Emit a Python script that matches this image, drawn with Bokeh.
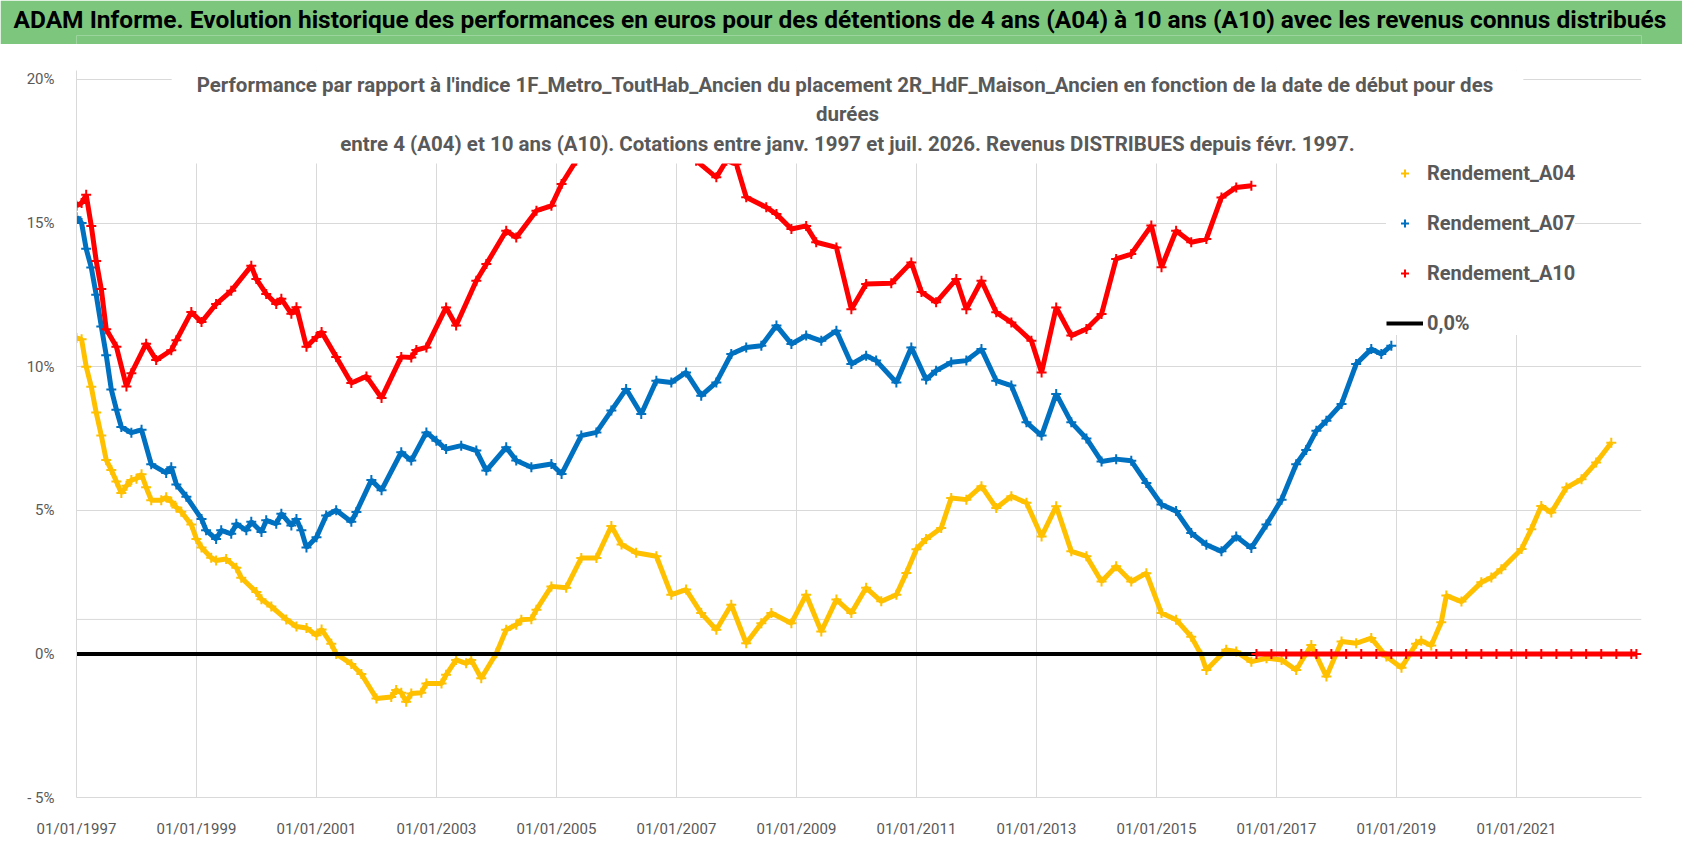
import pandas as pd
from bokeh.plotting import figure
from bokeh.layouts import column
from bokeh.models import (Range1d, FixedTicker, DatetimeTickFormatter, Label,
                          Legend, LegendItem, Span)
from bokeh.embed import file_html
from bokeh.resources import INLINE

POLICE = "Roboto"
GRIS_TEXTE = "#595959"
GRIS_GRILLE = "#D9D9D9"

TITRE = ("ADAM Informe. Evolution historique des performances en euros pour des "
         "détentions de 4 ans (A04) à 10 ans (A10) avec les revenus connus distribués")
SOUS_TITRE = ("Performance par rapport à l'indice 1F_Metro_ToutHab_Ancien  du placement "
              "2R_HdF_Maison_Ancien en fonction de la date de début pour des\n"
              "durées\n"
              "entre 4 (A04) et 10 ans (A10). Cotations entre janv. 1997 et juil. 2026. "
              "Revenus DISTRIBUES depuis févr. 1997.")

# axes
annees_ticks = [1997, 1999, 2001, 2003, 2005, 2007, 2009, 2011, 2013, 2015, 2017, 2019, 2021]
ticks_y = [-5, 0, 5, 10, 15, 20]
labels_y = ["- 5%", "0%", "5%", "10%", "15%", "20%"]
debut_axe = "1997-01"
fin_axe = "2023-02"
ligne_grise = 1.2  # ligne horizontale supplementaire visible sur le graphique

# Rendement_A04 (en %)
dates_a04 = [
    "1997-01", "1997-02", "1997-03", "1997-04", "1997-05", "1997-06", "1997-07", "1997-08",
    "1997-09", "1997-10", "1997-11", "1997-12",
    "1998-01", "1998-02", "1998-03", "1998-04", "1998-06", "1998-07", "1998-08", "1998-09",
    "1998-10", "1998-12",
    "1999-01", "1999-02", "1999-04", "1999-05", "1999-07", "1999-09", "1999-10",
    "2000-01", "2000-02", "2000-04", "2000-07", "2000-09", "2000-11",
    "2001-01", "2001-02", "2001-04", "2001-05", "2001-08", "2001-10",
    "2002-01", "2002-04", "2002-05", "2002-06", "2002-07", "2002-08", "2002-10", "2002-11",
    "2003-02", "2003-03", "2003-05", "2003-07", "2003-08", "2003-10",
    "2004-01", "2004-03", "2004-05", "2004-06", "2004-08", "2004-09", "2004-12",
    "2005-03", "2005-06", "2005-09", "2005-12",
    "2006-02", "2006-05", "2006-09", "2006-12",
    "2007-03", "2007-06", "2007-09", "2007-12",
    "2008-03", "2008-06", "2008-08", "2008-12",
    "2009-03", "2009-06", "2009-09", "2009-12",
    "2010-03", "2010-06", "2010-09", "2010-11",
    "2011-01", "2011-03", "2011-06", "2011-08", "2011-11",
    "2012-02", "2012-05", "2012-08", "2012-11",
    "2013-02", "2013-05", "2013-08", "2013-11",
    "2014-02", "2014-05", "2014-08", "2014-11",
    "2015-02", "2015-05", "2015-08", "2015-10", "2015-11",
    "2016-03", "2016-05", "2016-08", "2016-11",
    "2017-02", "2017-05", "2017-08", "2017-11",
    "2018-02", "2018-05", "2018-08", "2018-11",
    "2019-02", "2019-05", "2019-06", "2019-08", "2019-10", "2019-11",
    "2020-02", "2020-06", "2020-08", "2020-10",
    "2021-02", "2021-04", "2021-06", "2021-08", "2021-11",
    "2022-02", "2022-05", "2022-08",
]
rendement_a04 = [
    11.0, 10.95, 10.0, 9.3, 8.4, 7.6, 6.75, 6.4, 6.0, 5.6, 5.85, 6.05,
    6.1, 6.25, 5.8, 5.35, 5.35, 5.45, 5.3, 5.1, 4.95, 4.5,
    4.0, 3.7, 3.35, 3.25, 3.3, 3.0, 2.65,
    2.15, 1.9, 1.65, 1.2, 0.95, 0.9,
    0.65, 0.85, 0.35, 0.0, -0.35, -0.7,
    -1.55, -1.5, -1.26, -1.35, -1.67, -1.38, -1.35, -1.03,
    -1.03, -0.73, -0.21, -0.33, -0.21, -0.85,
    0.02, 0.84, 1.01, 1.19, 1.21, 1.54, 2.35,
    2.3, 3.34, 3.34, 4.45,
    3.81, 3.52, 3.4, 2.06,
    2.24, 1.42, 0.84, 1.71,
    0.37, 1.07, 1.42, 1.07,
    2.06, 0.78, 1.89, 1.42,
    2.3, 1.83, 2.06, 2.82,
    3.64, 4.0, 4.38, 5.43, 5.37,
    5.84, 5.08, 5.49, 5.26,
    4.09, 5.14, 3.57, 3.4,
    2.52, 3.05, 2.52, 2.81,
    1.42, 1.19, 0.6, -0.03, -0.56,
    0.14, 0.08, -0.27, -0.15,
    -0.21, -0.56, 0.31, -0.79,
    0.43, 0.37, 0.55, -0.09,
    -0.48, 0.35, 0.46, 0.29, 1.1, 2.03,
    1.82, 2.49, 2.66, 2.95,
    3.65, 4.34, 5.15, 4.92, 5.79,
    6.08, 6.66, 7.35,
]

# Rendement_A07 (en %)
dates_a07 = [
    "1997-01", "1997-02", "1997-03", "1997-04", "1997-05", "1997-06", "1997-07", "1997-08",
    "1997-09", "1997-10", "1997-12",
    "1998-02", "1998-04", "1998-07", "1998-08", "1998-09", "1998-11",
    "1999-02", "1999-03", "1999-05", "1999-06", "1999-08", "1999-09", "1999-11", "1999-12",
    "2000-02", "2000-03", "2000-05", "2000-06", "2000-08", "2000-09", "2000-10", "2000-11",
    "2001-01", "2001-03", "2001-05", "2001-08", "2001-09", "2001-12",
    "2002-02", "2002-06", "2002-08", "2002-11",
    "2003-01", "2003-03", "2003-06", "2003-09", "2003-11",
    "2004-03", "2004-05", "2004-08", "2004-12",
    "2005-02", "2005-06", "2005-09", "2005-12",
    "2006-03", "2006-06", "2006-09", "2006-12",
    "2007-03", "2007-06", "2007-09", "2007-12",
    "2008-03", "2008-06", "2008-09", "2008-12",
    "2009-03", "2009-06", "2009-09", "2009-12",
    "2010-03", "2010-05", "2010-09", "2010-12",
    "2011-03", "2011-05", "2011-08", "2011-11",
    "2012-02", "2012-05", "2012-08", "2012-11",
    "2013-02", "2013-05", "2013-08", "2013-11",
    "2014-02", "2014-05", "2014-08", "2014-11",
    "2015-02", "2015-05", "2015-08", "2015-11",
    "2016-02", "2016-05", "2016-08", "2016-11",
    "2017-02", "2017-05", "2017-07", "2017-09", "2017-11",
    "2018-02", "2018-05", "2018-08", "2018-10", "2018-12",
]
rendement_a07 = [
    15.2, 15.0, 14.1, 13.45, 12.5, 11.4, 10.4, 9.2, 8.5, 7.9, 7.7,
    7.8, 6.6, 6.3, 6.5, 5.9, 5.47,
    4.7, 4.3, 4.0, 4.3, 4.18, 4.53, 4.3, 4.6,
    4.24, 4.65, 4.53, 4.88, 4.47, 4.7, 4.3, 3.7,
    4.06, 4.82, 5.0, 4.6, 4.94, 6.05,
    5.7, 7.02, 6.73, 7.71,
    7.42, 7.13, 7.25, 7.08, 6.38,
    7.19, 6.73, 6.5, 6.61,
    6.26, 7.6, 7.71, 8.47,
    9.22, 8.35, 9.51, 9.45,
    9.8, 8.99, 9.45, 10.44,
    10.67, 10.73, 11.43, 10.79,
    11.08, 10.9, 11.25, 10.09,
    10.38, 10.21, 9.45, 10.67,
    9.55, 9.86, 10.15, 10.21,
    10.61, 9.51, 9.34, 8.06,
    7.6, 9.05, 8.06, 7.5,
    6.7, 6.78, 6.72, 5.95,
    5.2, 4.97, 4.21, 3.8,
    3.57, 4.09, 3.69, 4.5,
    5.37, 6.6, 7.1, 7.77, 8.12,
    8.7, 10.09, 10.61, 10.44, 10.73,
]

# Rendement_A10 (en %) ; entre mi-2005 et mi-2007 la courbe passe sous le titre (valeurs estimees)
dates_a10 = [
    "1997-01", "1997-02", "1997-03", "1997-04", "1997-05", "1997-06", "1997-07", "1997-09",
    "1997-11", "1997-12",
    "1998-03", "1998-05", "1998-08", "1998-09", "1998-12",
    "1999-02", "1999-05", "1999-08", "1999-12",
    "2000-01", "2000-03", "2000-05", "2000-06", "2000-08", "2000-09", "2000-11",
    "2001-01", "2001-02", "2001-05", "2001-08", "2001-11",
    "2002-02", "2002-06", "2002-08", "2002-09", "2002-11",
    "2003-03", "2003-05", "2003-09", "2003-11",
    "2004-03", "2004-05", "2004-09", "2004-12",
    "2005-02", "2005-05", "2005-08", "2005-12",
    "2006-04", "2006-08", "2006-12",
    "2007-03", "2007-05", "2007-09", "2007-11",
    "2008-01", "2008-03", "2008-07", "2008-09", "2008-12",
    "2009-03", "2009-05", "2009-09", "2009-12",
    "2010-03", "2010-08", "2010-12",
    "2011-02", "2011-05", "2011-09", "2011-11",
    "2012-02", "2012-05", "2012-08", "2012-12",
    "2013-02", "2013-05", "2013-08", "2013-11",
    "2014-02", "2014-05", "2014-08", "2014-12",
    "2015-02", "2015-05", "2015-08", "2015-11",
    "2016-02", "2016-05", "2016-08",
]
rendement_a10 = [
    15.6, 15.7, 15.98, 14.9, 13.68, 12.7, 11.3, 10.69, 9.31, 9.77,
    10.8, 10.23, 10.57, 10.92, 11.9,
    11.55, 12.18, 12.64, 13.51,
    13.05, 12.53, 12.18, 12.36, 11.84, 12.07, 10.69,
    11.03, 11.21, 10.34, 9.43, 9.66,
    8.91, 10.34, 10.32, 10.58, 10.67,
    12.06, 11.43, 12.99, 13.57,
    14.73, 14.5, 15.43, 15.6,
    16.36, 17.17, 18.2, 18.9,
    19.3, 19.1, 18.6,
    18.0, 17.17, 16.59, 17.17,
    17.05, 15.9, 15.55, 15.31, 14.79,
    14.9, 14.33, 14.15, 12.0,
    12.88, 12.9, 13.63,
    12.6, 12.24, 13.05, 12.0,
    12.99, 11.89, 11.54, 10.9,
    9.8, 12.06, 11.08, 11.31,
    11.83, 13.75, 13.92, 14.91,
    13.46, 14.73, 14.33, 14.44,
    15.89, 16.24, 16.3,
]
# A10 : revenus non encore connus -> valeurs a 0 a partir de sept. 2016
dates_a10_zero = [
    "2016-09", "2016-12", "2017-03", "2017-06", "2017-09", "2017-12", "2018-03", "2018-06",
    "2018-09", "2018-12", "2019-03", "2019-06", "2019-09", "2019-12", "2020-03", "2020-06",
    "2020-09", "2020-12", "2021-03", "2021-06", "2021-09", "2021-12", "2022-03", "2022-06",
    "2022-09", "2022-12", "2023-01",
]
rendement_a10_zero = [
    0.0, 0.0, 0.0, 0.0, 0.0, 0.0, 0.0, 0.0,
    0.0, 0.0, 0.0, 0.0, 0.0, 0.0, 0.0, 0.0,
    0.0, 0.0, 0.0, 0.0, 0.0, 0.0, 0.0, 0.0,
    0.0, 0.0, 0.0,
]
# serie "0,0%"
dates_zero = ["1997-01", "2023-01"]
valeurs_zero = [0.0, 0.0]

couleurs = {"A04": "#FFC000", "A07": "#0070C0", "A10": "#FF0000"}


def en_dates(liste):
    return pd.to_datetime(liste, format="%Y-%m")


def courbe(p, dates, valeurs, couleur):
    x = en_dates(dates)
    p.line(x, valeurs, line_color=couleur, line_width=5)
    return p.scatter(x, valeurs, marker="cross", size=10, line_width=2, line_color=couleur)


def main():
    # bandeau vert du haut : titre place dans le panneau "above" (non coupe par le cadre)
    bandeau = figure(width=1682, height=44, toolbar_location=None, output_backend="svg",
                     title=TITRE, x_range=Range1d(0, 1), y_range=Range1d(0, 1),
                     x_axis_location=None, y_axis_location=None, min_border=0,
                     background_fill_color="#7DC67E", border_fill_color="#7DC67E",
                     outline_line_color=None)
    bandeau.grid.visible = False
    bandeau.title.align = "left"
    bandeau.title.offset = -63  # le cadre est aligne sur celui du graphique (x = 76)
    bandeau.title.standoff = 4
    bandeau.title.text_font = POLICE
    bandeau.title.text_font_size = "24.5px"
    bandeau.title.text_font_style = "bold"
    bandeau.title.text_color = "black"

    debut = pd.Timestamp(debut_axe)
    fin = pd.Timestamp(fin_axe)
    # le cadre monte un peu au-dessus de 20 % pour que le titre du graphique n'y soit pas coupe
    p = figure(width=1682, height=796, x_axis_type="datetime",
               x_range=Range1d(debut, fin), y_range=Range1d(-5, 20.31),
               toolbar_location=None, output_backend="svg",
               min_border_left=76, min_border_right=41, min_border_top=26,
               min_border_bottom=39, outline_line_color=None,
               background_fill_color="white", border_fill_color="white")

    # axes
    ticks_x = [pd.Timestamp(f"{a}-01-01").timestamp() * 1000 for a in annees_ticks]
    p.xaxis.ticker = FixedTicker(ticks=ticks_x)
    fmt = "%d/%m/%Y"
    p.xaxis.formatter = DatetimeTickFormatter(years=fmt, months=fmt, days=fmt, hours=fmt,
                                              minutes=fmt, seconds=fmt)
    p.yaxis.ticker = FixedTicker(ticks=ticks_y)
    p.yaxis.major_label_overrides = dict(zip(ticks_y, labels_y))
    for ax in (p.xaxis, p.yaxis):
        ax.axis_line_color = GRIS_GRILLE
        ax.major_tick_line_color = None
        ax.minor_tick_line_color = None
        ax.major_label_text_font = POLICE
        ax.major_label_text_font_size = "15px"
        ax.major_label_text_color = GRIS_TEXTE
    p.xaxis.major_label_standoff = 16
    p.yaxis.major_label_standoff = 16
    p.grid.grid_line_color = GRIS_GRILLE
    p.add_layout(Span(location=ligne_grise, dimension="width", line_color=GRIS_GRILLE,
                      line_width=1, level="underlay"))

    # series
    r04 = courbe(p, dates_a04, rendement_a04, couleurs["A04"])
    r_zero = p.line(en_dates(dates_zero), valeurs_zero, line_color="black", line_width=4)
    r07 = courbe(p, dates_a07, rendement_a07, couleurs["A07"])
    r10 = courbe(p, dates_a10, rendement_a10, couleurs["A10"])
    courbe(p, dates_a10_zero, rendement_a10_zero, couleurs["A10"])

    # titre du graphique (fond blanc au-dessus des courbes)
    p.add_layout(Label(x=771, y=729, x_units="screen", y_units="screen", text=SOUS_TITRE,
                       text_align="center", text_baseline="top", text_font=POLICE,
                       text_font_size="20.5px", text_font_style="bold", text_color=GRIS_TEXTE,
                       text_line_height=1.23, background_fill_color="white",
                       padding=dict(left=25, right=25, top=4, bottom=8)))

    legende = Legend(items=[
        LegendItem(label="Rendement_A04", renderers=[r04]),
        LegendItem(label="Rendement_A07", renderers=[r07]),
        LegendItem(label="Rendement_A10", renderers=[r10]),
        LegendItem(label="0,0%", renderers=[r_zero]),
    ], location=(1310, 462))
    legende.background_fill_color = "white"
    legende.background_fill_alpha = 1.0
    legende.border_line_color = None
    legende.label_text_font = POLICE
    legende.label_text_font_size = "20px"
    legende.label_text_font_style = "bold"
    legende.label_text_color = GRIS_TEXTE
    legende.glyph_width = 37
    legende.glyph_height = 20
    legende.label_standoff = 4
    legende.spacing = 26
    legende.padding = 14
    p.add_layout(legende)

    page = column(bandeau, p)
    open("out.html", "w").write(file_html(page, INLINE))
    return 0


if __name__ == '__main__':
    raise SystemExit(main())
